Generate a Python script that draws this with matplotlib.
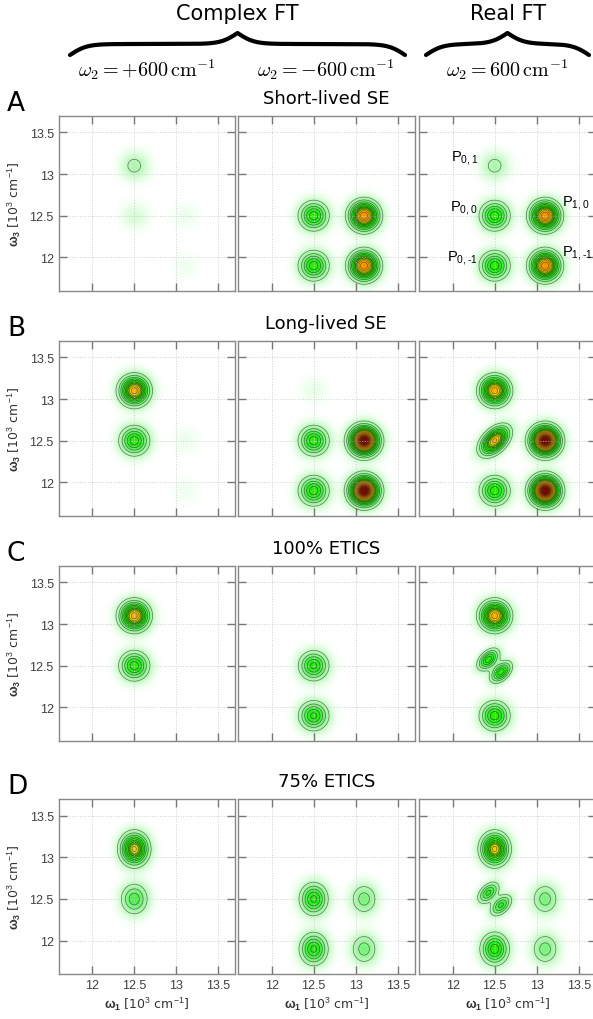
import numpy as np
import matplotlib
matplotlib.use('Agg')
import matplotlib.pyplot as plt
from matplotlib.colors import LinearSegmentedColormap

plt.rcParams['mathtext.fontset'] = 'custom'
plt.rcParams['mathtext.rm'] = 'Liberation Sans'
plt.rcParams['mathtext.it'] = 'Liberation Sans:italic'
plt.rcParams['mathtext.bf'] = 'Liberation Sans:bold'

# peak positions [10^3 cm^-1]
w1_pk = [12.5, 12.5, 12.5, 13.1, 13.1]
w3_pk = [13.1, 12.5, 11.9, 12.5, 11.9]
pk_labels = [r'P$_{0,1}$', r'P$_{0,0}$', r'P$_{0,\text{-}1}$', r'P$_{1,0}$', r'P$_{1,\text{-}1}$']

row_titles = ['Short-lived SE', 'Long-lived SE', '100% ETICS', '75% ETICS']
row_letters = ['A', 'B', 'C', 'D']
col_heads = [r'$\omega_2 = +600\,\mathrm{cm}^{-1}$',
             r'$\omega_2 = -600\,\mathrm{cm}^{-1}$',
             r'$\omega_2 = 600\,\mathrm{cm}^{-1}$']

# peak heights per panel: [w2 = +600, w2 = -600, real FT]
amp_A = [[0.08, 0.03, 0.0, 0.012, 0.01],
         [0.0, 0.34, 0.34, 0.72, 0.72],
         [0.08, 0.34, 0.34, 0.72, 0.72]]
amp_B = [[0.64, 0.34, 0.0, 0.012, 0.01],
         [0.015, 0.34, 0.34, 1.0, 1.0],
         [0.64, 0.62, 0.34, 1.0, 1.0]]
amp_C = [[0.64, 0.34, 0.0, 0.0, 0.0],
         [0.0, 0.32, 0.32, 0.0, 0.0],
         [0.64, 0.34, 0.34, 0.0, 0.0]]
amp_D = [[0.56, 0.22, 0.0, 0.0, 0.0],
         [0.0, 0.32, 0.32, 0.15, 0.15],
         [0.56, 0.26, 0.34, 0.15, 0.15]]
amps = [amp_A, amp_B, amp_C, amp_D]

# shape of P00 in the real FT panel
p00_shape = ['round', 'tilted', 'split', 'split']

# peak widths per row
sig_w1 = [0.10, 0.10, 0.10, 0.095]
sig_w3 = [0.10, 0.10, 0.10, 0.11]

ticks = [12, 12.5, 13, 13.5]
tick_lbls = ['12', '12.5', '13', '13.5']
lim = (11.6, 13.7)

w = np.linspace(lim[0], lim[1], 320)
X, Y = np.meshgrid(w, w)


def round_peak(x0, y0, a, s1, s3):
    return a * np.exp(-(X - x0)**2 / (2 * s1**2) - (Y - y0)**2 / (2 * s3**2))


def tilted_peak(x0, y0, a, s_diag, s_anti):
    u = ((X - x0) - (Y - y0)) / np.sqrt(2)
    v = ((X - x0) + (Y - y0)) / np.sqrt(2)
    return a * np.exp(-u**2 / (2 * s_anti**2) - v**2 / (2 * s_diag**2))


def panel(r, c):
    Z = np.zeros_like(X)
    for k in range(5):
        a = amps[r][c][k]
        if a == 0:
            continue
        if c == 2 and k == 1 and p00_shape[r] == 'tilted':
            Z += tilted_peak(w1_pk[k], w3_pk[k], a, 0.12, 0.072)
        elif c == 2 and k == 1 and p00_shape[r] == 'split':
            # two lobes on either side of the diagonal
            for sgn in (-1, 1):
                Z += tilted_peak(w1_pk[k] + sgn * 0.075, w3_pk[k] - sgn * 0.075, a, 0.09, 0.055)
        else:
            Z += round_peak(w1_pk[k], w3_pk[k], a, sig_w1[r], sig_w3[r])
    return Z


stops = [(0.0, (1, 1, 1)), (0.01, (0.93, 1, 0.93)), (0.05, (0.76, 0.98, 0.76)),
         (0.12, (0.56, 0.96, 0.56)), (0.2, (0.32, 0.95, 0.32)), (0.28, (0.12, 0.94, 0.08)),
         (0.36, (0.22, 0.92, 0.0)), (0.42, (0.15, 0.72, 0.0)), (0.48, (0.5, 0.72, 0.0)),
         (0.54, (0.95, 0.86, 0.0)), (0.62, (1.0, 0.7, 0.0)), (0.72, (1.0, 0.55, 0.0)),
         (0.82, (0.7, 0.25, 0.0)), (0.92, (0.52, 0.08, 0.0)), (1.0, (0.55, 0.0, 0.0))]
cmap = LinearSegmentedColormap.from_list('greens_red', stops, N=1024)
levels = np.arange(0.06, 1.0, 0.06)

W, H = 593, 1020
fig = plt.figure(figsize=(W / 100, H / 100), dpi=100)

col_left = [58.6, 238.0, 419.0]
row_top = [116.7, 341.7, 566.7, 800.0]
pw, ph = 176.5, 175.0

for r in range(4):
    for c in range(3):
        ax = fig.add_axes([col_left[c] / W, 1 - (row_top[r] + ph) / H, pw / W, ph / H])
        Z = panel(r, c)
        ax.imshow(Z, extent=[lim[0], lim[1], lim[0], lim[1]], origin='lower', cmap=cmap,
                  vmin=0, vmax=1, interpolation='bilinear', aspect='auto')
        ax.contour(X, Y, Z, levels=levels, colors='#1a1a1a', linewidths=0.5, alpha=0.6)
        ax.set_xlim(lim)
        ax.set_ylim(lim)
        ax.set_xticks(ticks)
        ax.set_yticks(ticks)
        ax.grid(True, color='#cfcfcf', linestyle=':', linewidth=0.7)
        ax.tick_params(direction='in', length=5.5, width=1, color='#777777',
                       top=True, right=True, labelsize=9, labelcolor='#404040')
        for s in ax.spines.values():
            s.set_color('#888888')
            s.set_linewidth(1)
        if c == 0:
            ax.set_yticklabels(tick_lbls, family='Liberation Sans')
            ax.set_ylabel(r'$\mathbf{\omega}_\mathbf{3}$ [10$^3$ cm$^{-1}$]', fontsize=9,
                          color='#333333', labelpad=5)
        else:
            ax.set_yticklabels([])
        if r == 3:
            ax.set_xticklabels(tick_lbls, family='Liberation Sans')
            ax.set_xlabel(r'$\mathbf{\omega}_\mathbf{1}$ [10$^3$ cm$^{-1}$]', fontsize=9,
                          color='#333333', labelpad=3)
        else:
            ax.set_xticklabels([])
        if r == 0 and c == 2:
            for k in range(5):
                if k < 3:
                    ax.text(12.3, w3_pk[k] + 0.1, pk_labels[k], ha='right', va='center',
                            fontsize=10.5, family='Liberation Sans')
                else:
                    ax.text(13.3, w3_pk[k] + 0.17, pk_labels[k], ha='left', va='center',
                            fontsize=10.5, family='Liberation Sans')

# headers, braces, row titles in pixel coordinates
top = fig.add_axes([0, 0, 1, 1])
top.set_xlim(0, W)
top.set_ylim(H, 0)
top.axis('off')


def brace(x0, x1, y_flat, h, beta=0.12):
    half = (x1 - x0) / 2
    t = np.linspace(0, half, 300)
    yh = 1 / (1 + np.exp(-beta * t)) + 1 / (1 + np.exp(-beta * (t - half)))
    yy = np.concatenate([yh, yh[-2::-1]])
    xx = np.linspace(x0, x1, len(yy))
    top.plot(xx, y_flat - (yy - 1) * h, color='k', lw=3.0, solid_capstyle='round')


brace(70, 405, 45, 22)
brace(426, 589, 45, 22)
top.text(237, 14, 'Complex FT', ha='center', va='center', fontsize=15)
top.text(508, 14, 'Real FT', ha='center', va='center', fontsize=15)
for c in range(3):
    top.text(col_left[c] + pw / 2, 70, col_heads[c], ha='center', va='center',
             fontsize=14.5, math_fontfamily='cm')

for r in range(4):
    top.text(7, row_top[r] - 5.5, row_letters[r], ha='left', va='baseline', fontsize=19)
    top.text(col_left[1] + pw / 2, row_top[r] - 13, row_titles[r], ha='center',
             va='baseline', fontsize=13)

fig.savefig('out.png', dpi=100)
